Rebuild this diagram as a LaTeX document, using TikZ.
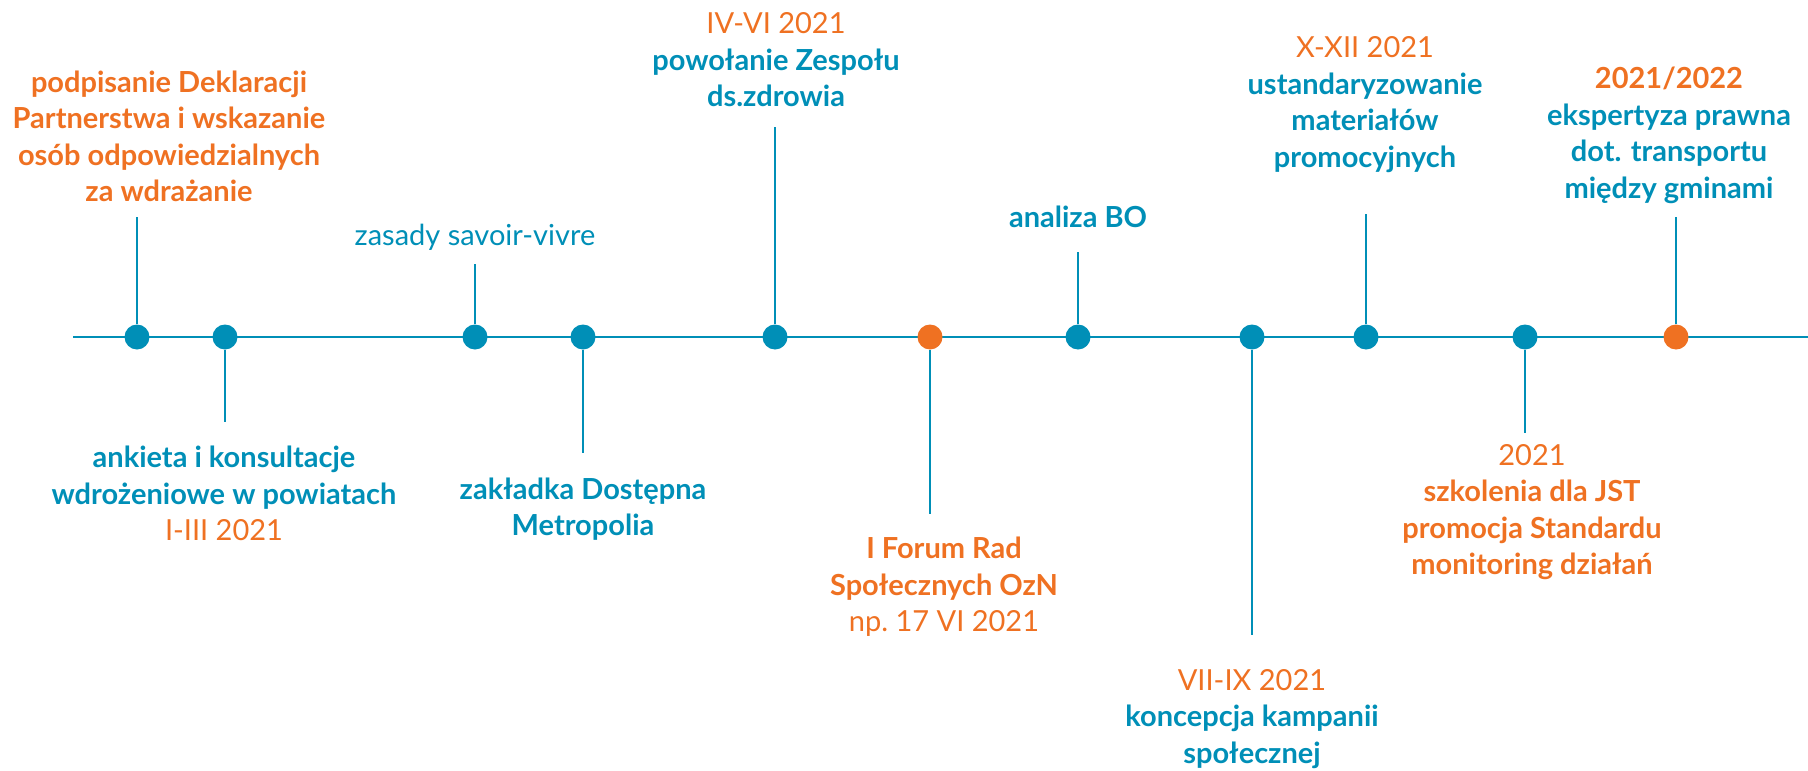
\documentclass[tikz,border=0pt]{standalone}
\usepackage{fontspec}
\setmainfont{Lato}
\definecolor{tlblue}{HTML}{008FB7}
\definecolor{tlorange}{HTML}{EF7122}
\newcommand{\tldate}[1]{\textcolor{tlorange}{\mdseries #1}}
\newcommand{\tlorg}[1]{\textcolor{tlorange}{#1}}
\tikzset{
    axis/.style={tlblue, line width=2.3pt},
    stem/.style={tlblue, line width=2pt},
    dotb/.style={circle, fill=tlblue, inner sep=0, minimum size=25pt},
    doto/.style={dotb, fill=tlorange},
    lbl/.style={align=center, inner sep=0, text=tlblue, font=\fontsize{29}{36.5}\selectfont},
    lblb/.style={lbl, font=\fontsize{29}{36.5}\selectfont\bfseries}
}
\begin{document}
\begin{tikzpicture}[x=1pt, y=-1pt]
\useasboundingbox (0,0) rectangle (1808,771);
\coordinate (ax0) at (73,337);
\coordinate (ax1) at (1808,337);
\draw[axis] (ax0) -- (ax1);

% events on the line
\node[dotb] (d1) at (137,337) {};
\node[dotb] (d2) at (225,337) {};
\node[dotb] (d3) at (475,337) {};
\node[dotb] (d4) at (583,337) {};
\node[dotb] (d5) at (775,337) {};
\node[doto] (d6) at (930,337) {};
\node[dotb] (d7) at (1078,337) {};
\node[dotb] (d8) at (1252,337) {};
\node[dotb] (d9) at (1366,337) {};
\node[dotb] (d10) at (1525,337) {};
\node[doto] (d11) at (1676,337) {};

% ends of the stems
\coordinate (s1) at (137,217);
\coordinate (s2) at (225,422);
\coordinate (s3) at (475,264);
\coordinate (s4) at (583,453);
\coordinate (s5) at (775,127);
\coordinate (s6) at (930,514);
\coordinate (s7) at (1078,252);
\coordinate (s8) at (1252,635);
\coordinate (s9) at (1366,214);
\coordinate (s10) at (1525,433);
\coordinate (s11) at (1676,217);
\draw[stem] (d1) -- (s1);
\draw[stem] (d2) -- (s2);
\draw[stem] (d3) -- (s3);
\draw[stem] (d4) -- (s4);
\draw[stem] (d5) -- (s5);
\draw[stem] (d6) -- (s6);
\draw[stem] (d7) -- (s7);
\draw[stem] (d8) -- (s8);
\draw[stem] (d9) -- (s9);
\draw[stem] (d10) -- (s10);
\draw[stem] (d11) -- (s11);

% labels
\node[lblb, text=tlorange] (l1) at (169,136.5) {podpisanie Deklaracji\\Partnerstwa i wskazanie\\osób odpowiedzialnych\\za wdrażanie};
\node[lblb] (l2) at (224,493.5) {ankieta i konsultacje\\wdrożeniowe w powiatach\\\tldate{I-III 2021}};
\node[lbl] (l3) at (475,237) {zasady savoir-vivre};
\node[lblb] (l4) at (583,509) {zakładka Dostępna\\Metropolia};
\node[lblb] (l5) at (776,60) {\tldate{IV-VI 2021}\\powołanie Zespołu\\ds.zdrowia};
\node[lblb, text=tlorange] (l6) at (944,587) {I Forum Rad\\Społecznych OzN\\\tldate{np.\ 17 VI 2021}};
\node[lblb] (l7) at (1078,217) {analiza BO};
\node[lblb] (l8) at (1252,719) {\tldate{VII-IX 2021}\\koncepcja kampanii\\społecznej};
\node[lblb] (l9) at (1365,104.5) {\tldate{X-XII 2021}\\ustandaryzowanie\\materiałów\\promocyjnych};
\node[lblb, text=tlorange] (l10) at (1532,512) {\tldate{2021}\\szkolenia dla JST\\promocja Standardu\\monitoring działań};
\node[lblb] (l11) at (1669,135.5) {\tlorg{2021/2022}\\ekspertyza prawna\\dot. transportu\\między gminami};
\end{tikzpicture}
\end{document}
